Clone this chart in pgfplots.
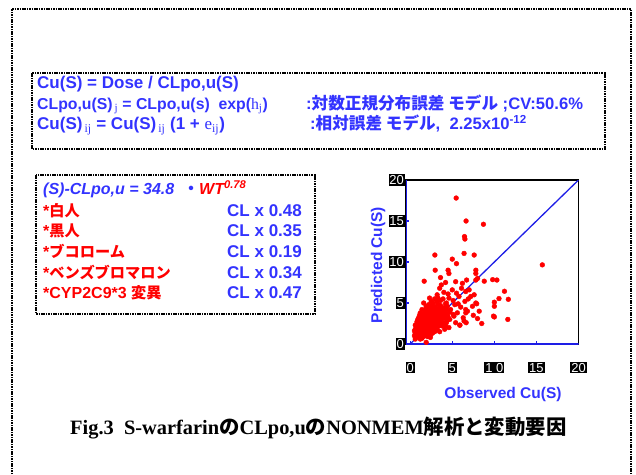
\documentclass[border=0pt]{standalone}
\usepackage{fontspec}
\setmainfont{Liberation Sans}
\newfontfamily\serif{Liberation Serif}
\newfontfamily\jp{Noto Sans CJK JP}
\usepackage{pgfplots}
\pgfplotsset{compat=1.18}
\definecolor{tblue}{RGB}{51,51,255}
\definecolor{tred}{RGB}{255,0,0}
\definecolor{lblue}{RGB}{30,30,230}

\pgfplotstableread{
x y
0.5 1.0
0.6 1.3
0.7 0.8
0.8 1.5
0.9 1.1
1.0 0.9
1.0 1.8
1.1 1.4
1.2 2.0
1.2 1.1
1.3 1.6
1.3 2.5
1.4 0.7
1.4 1.9
1.5 2.2
1.5 1.3
1.6 2.8
1.6 1.7
1.7 2.1
1.7 3.1
1.8 1.5
1.8 2.5
1.9 2.0
1.9 3.4
2.0 1.2
2.0 2.7
2.1 2.2
2.1 3.0
2.2 1.8
2.2 3.6
2.3 2.4
2.3 1.4
2.4 2.9
2.4 3.9
2.5 2.1
2.5 3.3
2.6 1.7
2.6 2.6
2.7 3.5
2.7 4.2
2.8 2.3
2.8 3.0
2.9 1.9
2.9 3.8
3.0 2.7
3.0 4.5
3.1 3.2
3.1 2.0
3.2 3.9
3.3 2.5
3.3 4.8
3.4 3.4
3.5 1.5
3.5 4.1
3.6 2.9
3.7 3.6
3.8 2.2
3.9 4.4
4.0 3.1
4.1 1.8
4.2 3.8
4.3 2.6
4.4 4.6
4.5 3.3
4.6 2.0
0.6 0.6
0.8 0.9
0.9 1.7
1.1 2.3
1.2 0.6
1.4 2.6
1.6 1.0
1.7 2.9
1.9 1.3
2.0 3.8
2.1 1.6
2.3 3.2
2.4 1.1
2.6 4.0
2.7 1.4
2.8 4.6
3.0 1.6
3.2 5.1
3.4 2.2
3.6 4.7
0.7 1.9
0.9 2.4
1.0 2.8
1.2 3.0
1.3 3.3
1.5 3.6
1.7 4.0
1.8 3.7
2.0 4.3
2.2 4.8
1.1 3.5
1.4 4.2
0.8 2.1
1.9 4.6
2.5 5.2
2.9 5.5
1.6 5.0
2.3 5.6
0.5 1.6
0.7 1.2
1.0 1.2
1.3 1.0
1.5 0.9
1.8 1.0
2.1 0.9
2.4 0.8
1.9 0.2
0.6 2.3
0.9 3.0
1.1 2.6
1.5 2.9
1.8 3.2
2.0 3.3
2.2 2.9
2.5 2.6
2.7 2.8
3.0 3.5
3.2 3.0
3.4 4.3
3.6 3.8
3.8 3.2
4.0 4.0
4.2 4.9
4.4 2.9
4.7 3.9
1.3 2.1
1.6 2.4
1.9 2.6
2.2 2.3
2.4 2.0
2.6 3.1
2.8 3.4
3.1 2.5
3.3 3.7
3.5 2.7
0.6 1.8
0.8 2.7
1.0 3.2
1.2 3.8
1.4 3.0
1.6 3.3
1.8 4.2
2.0 2.0
2.1 4.0
2.3 4.4
2.5 4.6
2.7 5.0
2.9 4.2
3.1 4.0
3.3 3.1
3.5 3.5
3.7 4.2
3.9 3.7
4.1 3.4
4.3 4.2
1.1 1.0
1.3 0.8
1.7 1.2
2.2 1.2
2.6 1.3
2.9 1.5
3.2 1.8
3.6 2.3
3.9 2.6
4.2 2.2
3.2 6.0
3.5 6.8
3.7 7.2
3.9 5.5
4.0 6.3
4.2 7.5
4.3 5.0
4.5 6.1
4.6 5.6
4.8 4.2
5.0 6.6
5.1 5.3
5.2 3.4
5.3 4.8
5.5 6.2
5.6 3.8
5.8 5.8
6.0 4.5
6.1 6.8
6.2 7.4
6.3 3.2
6.5 5.2
6.6 6.4
6.8 4.0
7.0 6.6
7.2 5.8
7.4 4.6
7.5 3.5
7.6 6.0
7.8 5.0
8.0 8.0
8.2 4.0
4.1 4.4
4.7 3.0
5.4 2.6
3.3 5.6
3.6 5.3
4.4 3.6
5.7 4.9
6.9 5.5
5.9 2.3
6.4 2.8
5.46 17.8
6.64 15.0
8.7 14.6
6.45 13.1
6.5 12.8
6.4 11.05
2.93 10.85
7.6 10.85
5.0 10.35
5.5 9.8
15.7 9.65
2.97 9.0
4.5 9.0
7.8 9.0
7.8 8.6
1.66 7.66
3.6 8.1
4.6 8.6
5.4 7.6
6.7 7.8
7.8 7.8
8.8 7.66
9.8 7.85
10.3 7.8
11.2 6.43
10.55 5.54
11.66 5.45
7.9 4.9
10.0 5.1
10.0 4.6
9.9 3.4
10.0 3.3
11.6 3.0
8.5 2.5
8.0 3.1
6.65 2.6
6.6 4.2
6.6 3.8
5.9 2.3
5.1 3.6
}\scatterdata

\begin{document}
\begin{tikzpicture}[x=1pt,y=1pt]
\useasboundingbox (0,0) rectangle (636,474);
\tikzset{dbox/.style={draw=black, line width=1.3pt, dash pattern=on 1.6pt off 0.8pt}}
% outer frame
\draw[dbox] (12,-5) -- (12,465) -- (631,465) -- (631,-5);
% box 1
\draw[dbox] (32,401) rectangle (605,325);
\begin{scope}[every node/.style={anchor=base west, inner sep=0pt, text=tblue}]
\node[font=\fontsize{17}{19}\selectfont\bfseries] at (37,385) {Cu(S) = Dose / CLpo,u(S)};
\node[font=\fontsize{15.8}{18}\selectfont\bfseries] at (37,364.5) {CLpo,u(S)\textsubscript{\,{\serif\mdseries j}} = CLpo,u(s)\ \ exp({\serif\mdseries h\textsubscript{j}})};
\node[font=\fontsize{16.6}{18}\selectfont\bfseries] at (306,364.5) {:{\jp 対数正規分布誤差 モデル} ;CV:50.6\%};
\node[font=\fontsize{17}{19}\selectfont\bfseries] at (37,344.5) {Cu(S)\textsubscript{\,{\serif\mdseries ij}} = Cu(S)\textsubscript{\,{\serif\mdseries ij}} (1 + {\serif\mdseries e\textsubscript{ij}})};
\node[font=\fontsize{16.6}{18}\selectfont\bfseries] at (310,344.5) {:{\jp 相対誤差 モデル},\ \ 2.25x10\textsuperscript{-12}};
\end{scope}
% box 2
\draw[dbox] (36,299) rectangle (315,160);
\begin{scope}[every node/.style={anchor=base west, inner sep=0pt, font=\fontsize{16}{18}\selectfont\bfseries}]
\node[text=tblue] at (43,279) {\itshape (S)-CLpo,u = 34.8\ \ {\jp ・}\textcolor{tred}{WT\textsuperscript{0.78}}};
\node[text=tred] at (43,257) {*{\jp\fontsize{15.2}{16}\selectfont 白人}};
\node[text=tred] at (43,237) {*{\jp\fontsize{15.2}{16}\selectfont 黒人}};
\node[text=tred] at (43,216) {*{\jp\fontsize{15.2}{16}\selectfont ブコローム}};
\node[text=tred] at (43,196) {*{\jp\fontsize{15.2}{16}\selectfont ベンズブロマロン}};
\node[text=tred] at (43,176) {*CYP2C9*3 {\jp\fontsize{15.2}{16}\selectfont 変異}};
\begin{scope}[every node/.style={anchor=base west, inner sep=0pt, text=tblue, font=\fontsize{17}{19}\selectfont\bfseries}]
\node at (227,257) {CL x 0.48};
\node at (227,237) {CL x 0.35};
\node at (227,216) {CL x 0.19};
\node at (227,196) {CL x 0.34};
\node at (227,176) {CL x 0.47};
\end{scope}
\end{scope}
% caption
\node[anchor=base west, inner sep=0pt, font=\fontsize{20.4}{22}\selectfont\bfseries] at (70,40)
 {{\serif Fig.3\ \ S-warfarin}{\jp の}{\serif CLpo,u}{\jp の}{\serif NONMEM}{\jp 解析と変動要因}};
% axis labels
\node[anchor=base, inner sep=0pt, text=tblue, font=\fontsize{15.5}{17}\selectfont\bfseries] at (503,76) {Observed Cu(S)};
\node[anchor=base, rotate=90, inner sep=0pt, text=tblue, font=\fontsize{15.5}{17}\selectfont\bfseries] at (382,209) {Predicted Cu(S)};

\begin{axis}[
 at={(406pt,130pt)}, anchor=south west, scale only axis,
 width=172.5pt, height=164pt,
 xmin=-0.5, xmax=20, ymin=0, ymax=20,
 xtick={0,5,10,15,20}, ytick={0,5,10,15,20},
 xticklabels={0,5,1 0,15,20}, yticklabels={0,5,10,15,20},
 tick pos=left, tick align=inside, major tick length=3pt,
 every tick/.style={lblue, line width=1.2pt},
 axis line style={black, line width=1.3pt},
 ticklabel style={fill=black, text=white, inner sep=0.9pt, font=\fontsize{13}{13}\selectfont, text height=9.3pt, text depth=0pt},
 xticklabel style={yshift=-18pt},
 yticklabel style={xshift=-1pt},
]
\addplot[only marks, mark=*, mark size=2.4pt, color=red] table {\scatterdata};
\addplot[lblue, line width=1.3pt] coordinates {(0,0) (20,20)};
\draw[lblue, line width=1.8pt] (rel axis cs:0,1) -- (rel axis cs:0,0) -- (rel axis cs:1,0);
\end{axis}
\end{tikzpicture}
\end{document}
